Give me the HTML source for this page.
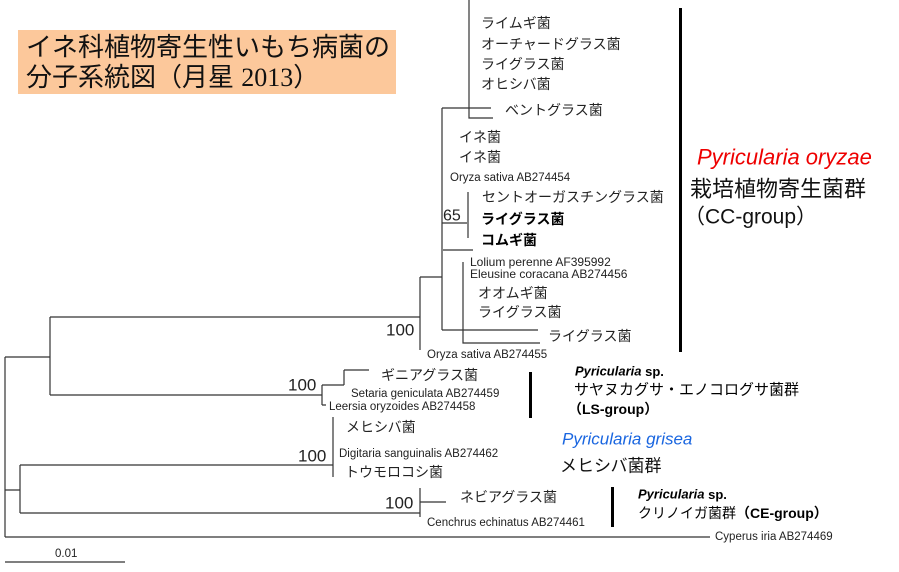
<!DOCTYPE html>
<html><head><meta charset="utf-8"><style>
html,body{margin:0;padding:0;background:#fff;}
svg{display:block;}
text{font-family:"Liberation Sans","Noto Sans CJK JP",sans-serif;dominant-baseline:central;fill:#222;}
.j{font-size:14px;}
.s{font-size:11.5px;}
.n{font-size:17px;}
</style></head><body>
<svg width="899" height="572" viewBox="0 0 899 572" xmlns="http://www.w3.org/2000/svg">
<rect x="18" y="30" width="378" height="64" fill="#fcc89b"/>
<text x="26" y="47" style="font-size:26px;fill:#111">イネ科植物寄生性いもち病菌の</text>
<text x="26" y="77" style="font-size:26px;fill:#111">分子系統図（月星 <tspan font-family="Liberation Serif">2013</tspan>）</text>
<g stroke="#333" stroke-width="1.2" fill="none">
<path d="M5 357V537M5 357H50M5 490H20M5 537H710"/>
<path d="M50 317V395M50 317H420M50 395H322"/>
<path d="M322 385V405M322 385H344M344 370V385M344 370H369M322 405H326"/>
<path d="M20 465V513M20 465H333M333 417V477M20 513H420"/>
<path d="M420 488V517M420 502H446"/>
<path d="M420 277V350M420 277H442M442 108V330M442 108H491M469 0V118H493"/>
<path d="M442 223H467M468 192V238M443 250H473M442 330H538M463 262V343H540"/>
</g>
<g fill="#000">
<rect x="679" y="8" width="3" height="344"/>
<rect x="529" y="372" width="3" height="46"/>
<rect x="611" y="487" width="3" height="40"/>
</g>
<text class="j" x="481" y="23">ライムギ菌</text>
<text class="j" x="481" y="44">オーチャードグラス菌</text>
<text class="j" x="481" y="64">ライグラス菌</text>
<text class="j" x="481" y="84">オヒシバ菌</text>
<text class="j" x="505" y="110">ベントグラス菌</text>
<text class="j" x="459" y="137">イネ菌</text>
<text class="j" x="459" y="157">イネ菌</text>
<text class="s" x="450" y="178">Oryza sativa AB274454</text>
<text class="j" x="482" y="197">セントオーガスチングラス菌</text>
<text class="n" x="443" y="216" style="font-size:16px">65</text>
<text class="j" x="481" y="219" style="fill:#000;font-weight:bold">ライグラス菌</text>
<text class="j" x="481" y="240" style="fill:#000;font-weight:bold">コムギ菌</text>
<text class="s" x="470" y="262" style="font-size:12px">Lolium perenne AF395992</text>
<text class="s" x="470" y="274" style="font-size:12px">Eleusine coracana AB274456</text>
<text class="j" x="478" y="293">オオムギ菌</text>
<text class="j" x="478" y="312">ライグラス菌</text>
<text class="j" x="548" y="336">ライグラス菌</text>
<text class="n" x="386" y="330">100</text>
<text class="s" x="427" y="355">Oryza sativa AB274455</text>
<text class="j" x="381" y="375">ギニアグラス菌</text>
<text class="n" x="288" y="385">100</text>
<text class="s" x="351" y="394">Setaria geniculata AB274459</text>
<text class="s" x="329" y="407">Leersia oryzoides AB274458</text>
<text class="j" x="346" y="427">メヒシバ菌</text>
<text class="n" x="298" y="456">100</text>
<text class="s" x="339" y="454">Digitaria sanguinalis AB274462</text>
<text class="j" x="345" y="472">トウモロコシ菌</text>
<text class="n" x="385" y="503">100</text>
<text class="j" x="460" y="497">ネビアグラス菌</text>
<text class="s" x="427" y="523">Cenchrus echinatus AB274461</text>
<text class="s" x="715" y="537">Cyperus iria AB274469</text>
<path d="M5 562H125" stroke="#333" stroke-width="1.2"/>
<text class="s" x="55" y="554">0.01</text>
<text x="697" y="157" style="font-size:22px;font-style:italic;fill:#e00">Pyricularia oryzae</text>
<text x="690" y="189" style="font-size:22px;fill:#111">栽培植物寄生菌群</text>
<text x="684" y="217" style="font-size:21px;fill:#111">（CC-group）</text>
<text x="575" y="371" style="font-size:13px;font-weight:bold;font-style:italic;fill:#000">Pyricularia <tspan font-style="normal">sp.</tspan></text>
<text x="574" y="390" style="font-size:15px;fill:#000">サヤヌカグサ・エノコログサ菌群</text>
<text x="568" y="409" style="font-size:14px;font-weight:bold;fill:#000">（LS-group）</text>
<text x="562" y="439" style="font-size:17px;font-style:italic;fill:#1a66e0">Pyricularia grisea</text>
<text x="560" y="466" style="font-size:17px;fill:#111">メヒシバ菌群</text>
<text x="638" y="494" style="font-size:13px;font-weight:bold;font-style:italic;fill:#000">Pyricularia <tspan font-style="normal">sp.</tspan></text>
<text x="638" y="513" style="font-size:14px;fill:#000">クリノイガ菌群<tspan font-weight="bold">（CE-group）</tspan></text>
</svg>
</body></html>
